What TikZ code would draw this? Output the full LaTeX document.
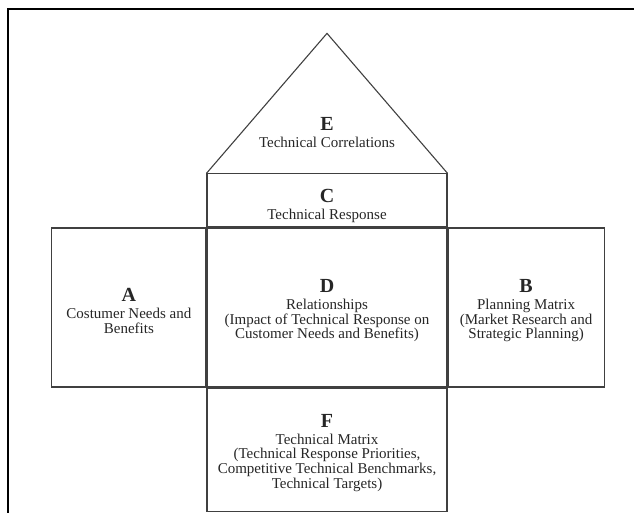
\documentclass[tikz,border=0pt]{standalone}
\usepackage{fontspec}
\setmainfont{Liberation Serif}
\usetikzlibrary{positioning}
\newcommand{\qletter}[2][19.5pt]{{\fontsize{20}{20}\selectfont\bfseries\rule{0pt}{#1}#2}\\[2.5pt]}
\begin{document}
\begin{tikzpicture}[x=1pt, y=-1pt, font=\fontsize{15}{14.7}\selectfont,
		part/.style={draw=black!75, line width=1.1pt, text=black!85, align=center, inner sep=0pt},
		mid/.style={part, minimum width=240pt}]
	\clip (0,0) rectangle (634,512);
	\draw[line width=2.5pt] (8,9) rectangle (700,600);
	\node[mid, minimum height=159pt] (D) at (327,307.5) {\qletter{D}Relationships\\(Impact of Technical Response on\\Customer Needs and Benefits)};
	\node[part, minimum width=154pt, minimum height=159pt, anchor=east] (A) at (D.west) {\qletter{A}Costumer Needs and\\Benefits};
	\node[part, minimum width=156pt, minimum height=159pt, anchor=west] (B) at (D.east) {\qletter{B}Planning Matrix\\(Market Research and\\Strategic Planning)};
	\node[mid, minimum height=53pt, anchor=south] (C) at (D.north) {\qletter[24pt]{C}Technical Response};
	\node[mid, minimum height=123pt, anchor=north] (F) at (D.south) {\qletter{F}Technical Matrix\\(Technical Response Priorities,\\Competitive Technical Benchmarks,\\Technical Targets)};
	\path (C.north) ++(0,-140) coordinate (top);
	\draw[draw=black!75, line width=1.1pt] (C.north west) -- (top) -- (C.north east);
	\node[text=black!85, align=center, inner sep=0pt] (E) at (327,129) {\qletter{E}Technical Correlations};
\end{tikzpicture}
\end{document}
